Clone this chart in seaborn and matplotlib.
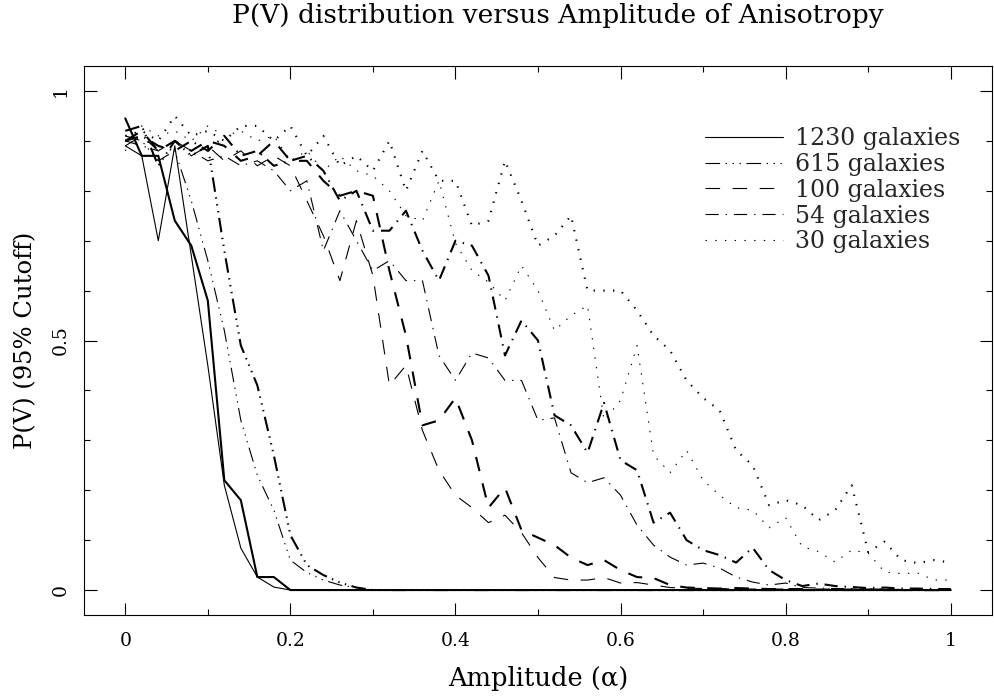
import matplotlib
matplotlib.use("Agg")
import matplotlib.pyplot as plt
from matplotlib.ticker import MultipleLocator, FixedLocator, FuncFormatter
import seaborn as sns

amplitude = [0.00, 0.02, 0.04, 0.06, 0.08, 0.10, 0.12, 0.14, 0.16, 0.18,
             0.20, 0.22, 0.24, 0.26, 0.28, 0.30, 0.32, 0.34, 0.36, 0.38,
             0.40, 0.42, 0.44, 0.46, 0.48, 0.50, 0.52, 0.54, 0.56, 0.58,
             0.60, 0.62, 0.64, 0.66, 0.68, 0.70, 0.72, 0.74, 0.76, 0.78,
             0.80, 0.82, 0.84, 0.86, 0.88, 0.90, 0.92, 0.94, 0.96, 0.98, 1.00]

g1230_thin = [0.89, 0.87, 0.70, 0.89, 0.67, 0.45, 0.21, 0.084, 0.026, 0.006,
              0.0, 0.0, 0.0, 0.0, 0.0, 0.0, 0.0, 0.0, 0.0, 0.0,
              0.0, 0.0, 0.0, 0.0, 0.0, 0.0, 0.0, 0.0, 0.0, 0.0,
              0.0, 0.0, 0.0, 0.0, 0.0, 0.0, 0.0, 0.0, 0.0, 0.0,
              0.0, 0.0, 0.0, 0.0, 0.0, 0.0, 0.0, 0.0, 0.0, 0.0, 0.0]
g1230_thick = [0.945, 0.87, 0.87, 0.74, 0.69, 0.58, 0.22, 0.18, 0.026, 0.026,
               0.0, 0.0, 0.0, 0.0, 0.0, 0.0, 0.0, 0.0, 0.0, 0.0,
               0.0, 0.0, 0.0, 0.0, 0.0, 0.0, 0.0, 0.0, 0.0, 0.0,
               0.0, 0.0, 0.0, 0.0, 0.0, 0.0, 0.0, 0.0, 0.0, 0.0,
               0.0, 0.0, 0.0, 0.0, 0.0, 0.0, 0.0, 0.0, 0.0, 0.0, 0.0]

g615_thin = [0.91, 0.90, 0.86, 0.88, 0.78, 0.66, 0.52, 0.34, 0.23, 0.16,
             0.06, 0.035, 0.02, 0.01, 0.005, 0.0, 0.0, 0.0, 0.0, 0.0,
             0.0, 0.0, 0.0, 0.0, 0.0, 0.0, 0.0, 0.0, 0.0, 0.0,
             0.0, 0.0, 0.0, 0.0, 0.0, 0.0, 0.0, 0.0, 0.0, 0.0,
             0.0, 0.0, 0.0, 0.0, 0.0, 0.0, 0.0, 0.0, 0.0, 0.0, 0.0]
g615_thick = [0.92, 0.93, 0.85, 0.90, 0.87, 0.89, 0.68, 0.49, 0.41, 0.27,
              0.11, 0.05, 0.03, 0.015, 0.005, 0.0, 0.0, 0.0, 0.0, 0.0,
              0.0, 0.0, 0.0, 0.0, 0.0, 0.0, 0.0, 0.0, 0.0, 0.0,
              0.0, 0.0, 0.0, 0.0, 0.0, 0.0, 0.0, 0.0, 0.0, 0.0,
              0.0, 0.0, 0.0, 0.0, 0.0, 0.0, 0.0, 0.0, 0.0, 0.0, 0.0]

g100_thin = [0.89, 0.91, 0.88, 0.90, 0.87, 0.89, 0.86, 0.88, 0.85, 0.87,
             0.85, 0.78, 0.71, 0.62, 0.74, 0.63, 0.41, 0.45, 0.32, 0.24,
             0.19, 0.165, 0.135, 0.15, 0.115, 0.065, 0.025, 0.02, 0.02, 0.025,
             0.014, 0.015, 0.01, 0.005, 0.004, 0.003, 0.003, 0.002, 0.002, 0.002,
             0.002, 0.001, 0.001, 0.001, 0.001, 0.001, 0.0, 0.0, 0.0, 0.0, 0.0]
g100_thick = [0.90, 0.92, 0.88, 0.90, 0.88, 0.90, 0.89, 0.86, 0.87, 0.90,
              0.86, 0.86, 0.82, 0.79, 0.80, 0.79, 0.64, 0.51, 0.33, 0.34,
              0.385, 0.30, 0.165, 0.205, 0.12, 0.105, 0.09, 0.065, 0.05, 0.06,
              0.04, 0.026, 0.024, 0.01, 0.005, 0.004, 0.003, 0.004, 0.003, 0.002,
              0.002, 0.002, 0.001, 0.001, 0.001, 0.001, 0.001, 0.0, 0.0, 0.0, 0.0]

g54_thin = [0.90, 0.89, 0.88, 0.90, 0.88, 0.86, 0.87, 0.85, 0.86, 0.84,
            0.80, 0.82, 0.68, 0.76, 0.70, 0.64, 0.66, 0.62, 0.62, 0.47,
            0.42, 0.475, 0.465, 0.42, 0.42, 0.34, 0.345, 0.235, 0.215, 0.225,
            0.19, 0.13, 0.09, 0.066, 0.05, 0.054, 0.044, 0.026, 0.016, 0.01,
            0.014, 0.005, 0.004, 0.003, 0.003, 0.002, 0.002, 0.001, 0.001, 0.001, 0.001]
g54_thick = [0.90, 0.91, 0.89, 0.88, 0.90, 0.88, 0.91, 0.87, 0.88, 0.85,
             0.86, 0.87, 0.84, 0.78, 0.80, 0.72, 0.72, 0.76, 0.68, 0.62,
             0.70, 0.69, 0.63, 0.47, 0.54, 0.50, 0.35, 0.33, 0.275, 0.375,
             0.26, 0.24, 0.135, 0.155, 0.10, 0.08, 0.07, 0.055, 0.085, 0.04,
             0.02, 0.008, 0.013, 0.008, 0.006, 0.004, 0.005, 0.003, 0.003, 0.002, 0.002]

g30_thin = [0.88, 0.93, 0.91, 0.92, 0.90, 0.93, 0.91, 0.92, 0.90, 0.91,
            0.86, 0.88, 0.84, 0.87, 0.84, 0.83, 0.80, 0.75, 0.74, 0.82,
            0.695, 0.64, 0.617, 0.58, 0.65, 0.60, 0.52, 0.55, 0.57, 0.34,
            0.38, 0.49, 0.27, 0.235, 0.28, 0.22, 0.19, 0.165, 0.16, 0.125,
            0.145, 0.087, 0.077, 0.056, 0.08, 0.074, 0.036, 0.033, 0.034, 0.02, 0.02]
g30_thick = [0.91, 0.92, 0.90, 0.95, 0.91, 0.92, 0.90, 0.93, 0.93, 0.90,
             0.93, 0.87, 0.91, 0.85, 0.87, 0.84, 0.90, 0.80, 0.88, 0.82,
             0.82, 0.73, 0.74, 0.86, 0.78, 0.69, 0.71, 0.75, 0.60, 0.60,
             0.60, 0.56, 0.51, 0.48, 0.42, 0.385, 0.36, 0.28, 0.25, 0.17,
             0.18, 0.17, 0.14, 0.16, 0.21, 0.076, 0.097, 0.06, 0.054, 0.06, 0.055]

labels = ["1230 galaxies", "615 galaxies", "100 galaxies", "54 galaxies", "30 galaxies"]

sns.set_theme(style="ticks")
plt.rcParams["font.family"] = ["DejaVu Serif"]
plt.rcParams["lines.scale_dashes"] = False
plt.rcParams["axes.linewidth"] = 0.8

fig = plt.figure(figsize=(9.95, 7.0), dpi=100)
ax = fig.add_axes([84 / 995, 1 - 615 / 700, 908 / 995, 549 / 700])

styles = {
    "1230 galaxies": "-",
    "615 galaxies": (0, (10.5, 4, 1, 4, 1, 4, 1, 4)),
    "100 galaxies": (0, (10.5, 9)),
    "54 galaxies": (0, (9.5, 5, 1, 5)),
    "30 galaxies": (0, (1, 6)),
}
pairs = [
    ("1230 galaxies", g1230_thin, g1230_thick),
    ("615 galaxies", g615_thin, g615_thick),
    ("100 galaxies", g100_thin, g100_thick),
    ("54 galaxies", g54_thin, g54_thick),
    ("30 galaxies", g30_thin, g30_thick),
]

handles = []
for lab, thin, thick in pairs:
    sns.lineplot(x=amplitude, y=thick, ax=ax, color="black", lw=1.5,
                 linestyle=styles[lab], sort=False, estimator=None)
    sns.lineplot(x=amplitude, y=thin, ax=ax, color="black", lw=0.8,
                 linestyle=styles[lab], sort=False, estimator=None)
    handles.append(ax.lines[-1])

ax.set_xlim(-0.05, 1.05)
ax.set_ylim(-0.05, 1.05)
ax.xaxis.set_major_locator(MultipleLocator(0.2))
ax.xaxis.set_minor_locator(MultipleLocator(0.1))
ax.yaxis.set_major_locator(FixedLocator([0, 0.5, 1]))
ax.yaxis.set_minor_locator(MultipleLocator(0.1))
ax.xaxis.set_major_formatter(FuncFormatter(lambda v, p: f"{v:g}"))
ax.yaxis.set_major_formatter(FuncFormatter(lambda v, p: f"{v:g}"))
ax.tick_params(which="both", direction="in", top=True, right=True, width=0.8,
               color="black", labelsize=13.5, labelcolor="black")
ax.tick_params(which="major", length=9)
ax.tick_params(which="minor", length=4.5)
ax.tick_params(axis="x", which="major", pad=12)
ax.tick_params(axis="y", which="major", pad=10)
for lbl in ax.get_yticklabels():
    lbl.set_rotation(90)
    lbl.set_va("center")
for s in ax.spines.values():
    s.set_color("black")

ax.set_xlabel("Amplitude (α)", fontsize=18.5, labelpad=12, color="black")
ax.set_ylabel("P(V) (95% Cutoff)", fontsize=17.5, labelpad=11, color="black")
fig.text(558 / 995, 1 - 16 / 700, "P(V) distribution versus Amplitude of Anisotropy",
         ha="center", va="center", fontsize=19, color="black")

leg = ax.legend(handles, labels, loc="upper left",
                bbox_to_anchor=((705 - 84) / 908, (615 - 127) / 549),
                frameon=False, fontsize=17, handlelength=3.3, handletextpad=0.5,
                labelspacing=0.12, borderpad=0, borderaxespad=0)

fig.savefig("out.png", dpi=100)
